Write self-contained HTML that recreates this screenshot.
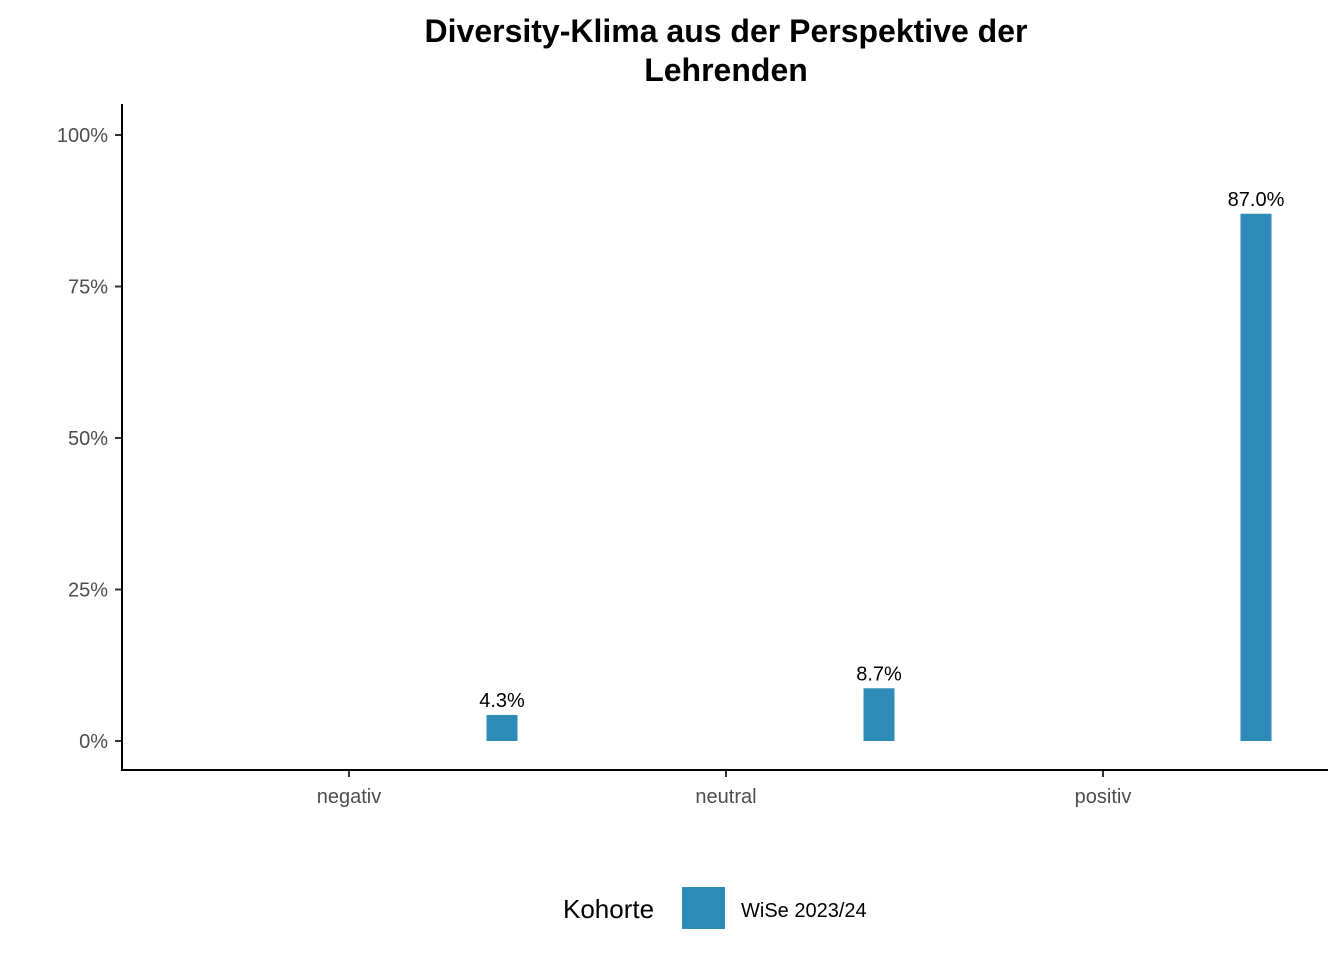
<!DOCTYPE html>
<html><head><meta charset="utf-8"><style>
body{margin:0;background:#fff;font-family:"Liberation Sans",Arial,sans-serif;}
</style></head><body>
<svg width="1344" height="960" xmlns="http://www.w3.org/2000/svg">
<text x="726" y="42" text-anchor="middle" font-size="32" font-weight="bold">Diversity-Klima aus der Perspektive der</text>
<text x="726" y="81" text-anchor="middle" font-size="32" font-weight="bold">Lehrenden</text>
<g id="plot"></g>
<line x1="122" y1="104" x2="122" y2="771" stroke="#000" stroke-width="2"/>
<line x1="121" y1="770" x2="1328" y2="770" stroke="#000" stroke-width="2"/>
<text x="563" y="918" font-size="26">Kohorte</text>
<rect x="682" y="887" width="43" height="42" fill="#2e8bb7"/>
<text x="741" y="917" font-size="20">WiSe 2023/24</text>
</svg>
<script>
const categories=["negativ","neutral","positiv"];
const values=[4.3,8.7,87.0];
const yTicks=[0,25,50,75,100];
const yTickLabels=["0%","25%","50%","75%","100%"];
const NS="http://www.w3.org/2000/svg";
const g=document.getElementById("plot");
const y=v=>741-v*6.06;
const x=i=>349+i*377;
function mk(t,a){const e=document.createElementNS(NS,t);for(const k in a)e.setAttribute(k,a[k]);g.appendChild(e);return e;}
yTicks.forEach((t,i)=>{
 const l=mk("line",{x1:115,x2:122,y1:y(t),y2:y(t),stroke:"#333","stroke-width":2});
 
 
 const tx=mk("text",{x:108,y:y(t)+7,"text-anchor":"end","font-size":20,fill:"#4d4d4d"});
 tx.textContent=yTickLabels[i];
 
 
});
categories.forEach((c,i)=>{
 const l=mk("line",{x1:x(i),x2:x(i),y1:770,y2:777,stroke:"#333","stroke-width":2});
 
 
 const tx=mk("text",{x:x(i),y:803,"text-anchor":"middle","font-size":20,fill:"#4d4d4d"});
 tx.textContent=c;
 
 
 const bx=x(i)+153-15.5;
 const b=mk("rect",{x:bx,y:y(values[i]),width:31,height:y(0)-y(values[i]),fill:"#2e8bb7"});
 
 
 const v=mk("text",{x:x(i)+153,y:y(values[i])-8,"text-anchor":"middle","font-size":20,fill:"#000"});
 v.textContent=values[i].toFixed(1)+"%";
 
 
});
</script>
</body></html>
